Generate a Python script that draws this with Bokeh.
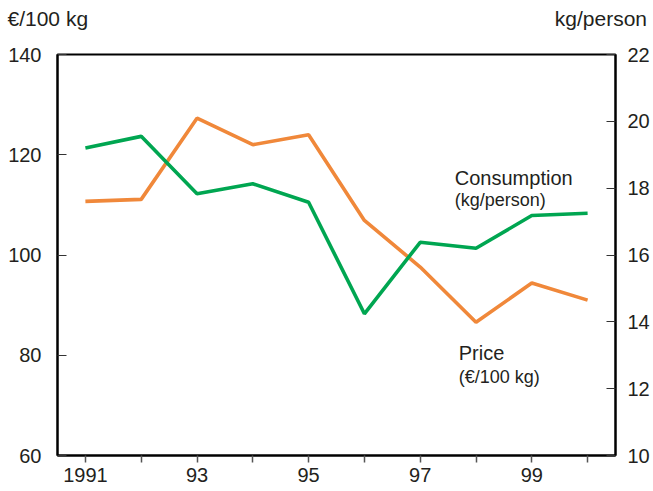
from bokeh.plotting import figure
from bokeh.models import Range1d, LinearAxis, FixedTicker, Label, Title
from bokeh.embed import file_html
from bokeh.resources import INLINE

years = [1991, 1992, 1993, 1994, 1995, 1996, 1997, 1998, 1999, 2000]
price = [110.7, 111.1, 127.3, 122.0, 124.0, 106.9, 97.6, 86.6, 94.4, 91.0]
consumption = [19.2, 19.55, 17.83, 18.13, 17.58, 14.24, 16.38, 16.2, 17.18, 17.25]
x_tick_labels = {1991: "1991", 1992: "", 1993: "93", 1994: "", 1995: "95",
                 1996: "", 1997: "97", 1998: "", 1999: "99", 2000: ""}
left_ticks = [60, 80, 100, 120, 140]
right_ticks = [10, 12, 14, 16, 18, 20, 22]
left_unit = "€/100 kg"
right_unit = "kg/person"

FONT = "Liberation Sans"
TXT = "#231F20"
ORANGE = "#F0883A"
GREEN = "#00A651"

p = figure(frame_width=558, frame_height=401, output_backend="svg", toolbar_location=None,
           x_range=Range1d(1990.5, 2000.5), y_range=Range1d(60, 140),
           min_border_left=57, min_border_top=54, min_border_right=38, min_border_bottom=10,
           background_fill_color="white", border_fill_color="white")
p.extra_y_ranges = {"cons": Range1d(10, 22)}
p.grid.visible = False
p.outline_line_color = "black"
p.outline_line_width = 2

# x axis
xa = p.xaxis[0]
xa.ticker = FixedTicker(ticks=years)
xa.major_label_overrides = x_tick_labels
xa.minor_tick_line_color = None
xa.major_tick_in = 0
xa.major_tick_out = 7
xa.major_tick_line_color = "#555555"
xa.major_tick_line_width = 1.5
xa.axis_line_width = 2
xa.major_label_standoff = 5

# left axis
ya = p.yaxis[0]
ya.ticker = FixedTicker(ticks=left_ticks)
ya.minor_tick_line_color = None
ya.major_tick_in = 9
ya.major_tick_out = 0
ya.major_tick_line_color = "#333333"
ya.axis_line_width = 2
ya.major_label_standoff = 16

# right axis
ra = LinearAxis(y_range_name="cons", ticker=FixedTicker(ticks=right_ticks))
ra.minor_tick_line_color = None
ra.major_tick_in = 9
ra.major_tick_out = 0
ra.major_tick_line_color = "#333333"
ra.axis_line_width = 2
ra.major_label_standoff = 12
p.add_layout(ra, "right")

for ax in [xa, ya, ra]:
    ax.major_label_text_font = FONT
    ax.major_label_text_font_size = "20px"
    ax.major_label_text_color = TXT
    ax.axis_line_color = "black"

p.line(years, price, line_color=ORANGE, line_width=3.6)
p.line(years, consumption, y_range_name="cons", line_color=GREEN, line_width=3.6)

# unit headers above the frame (one title line; non-breaking spaces separate them;
# a blank second line lifts the first line higher inside the top border)
header = left_unit + "\u00a0" * 80 + right_unit + "\n\u00a0"
p.add_layout(Title(text=header, align="left", offset=-50, vertical_align="top",
                   standoff=0, text_font=FONT, text_font_size="21px",
                   text_line_height=1.0,
                   text_font_style="normal", text_color=TXT), "above")

def lab(text, x, y, size):
    p.add_layout(Label(x=x, y=y, text=text, text_font=FONT, text_font_size=size,
                       text_color=TXT, text_align="left", text_baseline="alphabetic"))

lab("Consumption", 1997.62, 115.46, "20px")
lab("(kg/person)", 1997.62, 111.07, "18px")
lab("Price", 1997.69, 80.4, "20px")
lab("(€/100 kg)", 1997.69, 75.6, "18px")

open("out.html", "w").write(file_html(p, INLINE))
